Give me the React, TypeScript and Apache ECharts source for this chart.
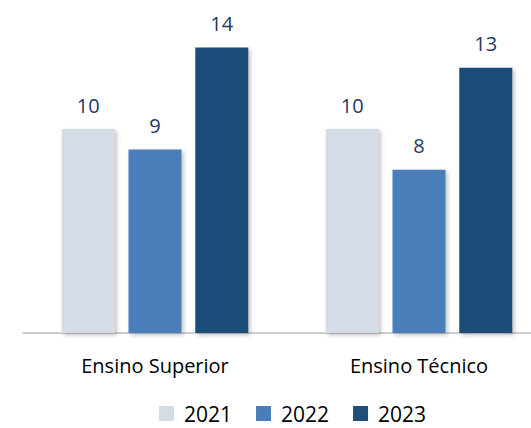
import React, { useEffect, useRef } from "react";
import * as echarts from "echarts";

const categories = ["Ensino Superior", "Ensino Técnico"];
const years = ["2021", "2022", "2023"];
const values2021 = [10, 10];
const values2022 = [9, 8];
const values2023 = [14, 13];
const colors = ["#D6DCE5", "#4A7EBB", "#1F4E79"];

const FONT = "'Open Sans', sans-serif";

export default function App() {
  const ref = useRef<HTMLDivElement>(null);
  useEffect(() => {
    if (!ref.current) return;
    const chart = echarts.init(ref.current, null, { renderer: "svg" });
    const seriesData = [values2021, values2022, values2023];
    chart.setOption({
      animation: false,
      color: colors,
      grid: { left: 23, width: 528, top: 6.6, bottom: 95, containLabel: false },
      legend: {
        top: 403,
        left: 159,
        padding: 0,
        itemWidth: 15,
        itemHeight: 15,
        itemGap: 24,
        icon: "rect",
        textStyle: { fontFamily: FONT, fontSize: 21, color: "#000", padding: [0, 0, 0, 5] },
        data: years,
      },
      xAxis: {
        type: "category",
        data: categories,
        axisLine: { lineStyle: { color: "#BFBFBF", width: 1.5 } },
        axisTick: { show: false },
        axisLabel: { fontFamily: FONT, fontSize: 20, color: "#000", margin: 22 },
      },
      yAxis: {
        type: "value",
        min: 0,
        max: 16,
        show: false,
        splitLine: { show: false },
      },
      series: years.map((y, i) => ({
        name: y,
        type: "bar",
        data: seriesData[i],
        barWidth: 53,
        barGap: "26%",
        itemStyle: {
          color: colors[i],
          shadowBlur: 4,
          shadowOffsetX: 2,
          shadowOffsetY: 2,
          shadowColor: "rgba(0,0,0,0.25)",
        },
        label: {
          show: true,
          position: "top",
          distance: 14,
          fontFamily: FONT,
          fontSize: 20,
          color: "#1F3864",
        },
      })),
    });
    return () => chart.dispose();
  }, []);
  return (
    <div style={{ width: 531, height: 428, position: "absolute", left: 0, top: 0, overflow: "hidden" }}>
      <div ref={ref} style={{ width: 560, height: 428 }} />
    </div>
  );
}
